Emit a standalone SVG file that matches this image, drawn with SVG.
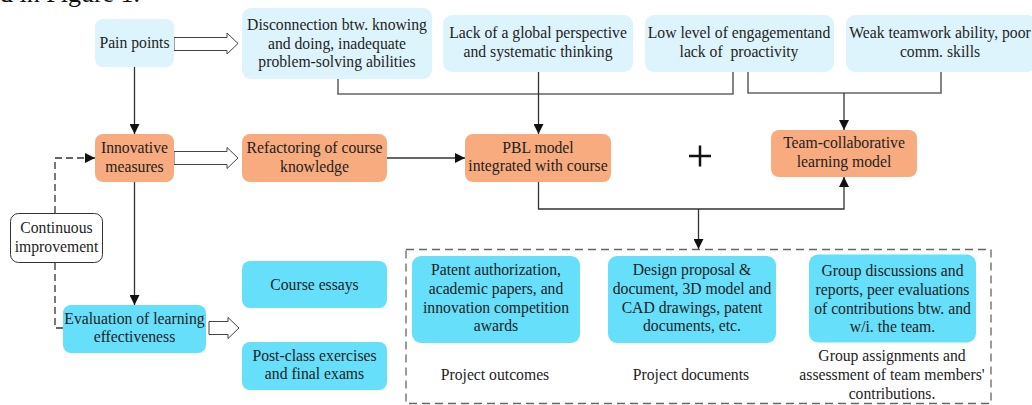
<svg xmlns="http://www.w3.org/2000/svg" width="1032" height="405" viewBox="0 0 1032 405">
<defs>
<style>
text{font-family:Liberation Serif,Tinos,Times New Roman,DejaVu Serif,serif;font-size:15.7px;fill:#1e1e1e;text-anchor:middle}
.pain{fill:#def4fc}
.orange{fill:#f8ab7e}
.cyan{fill:#66dffa}
.plain{fill:#ffffff;stroke:#333;stroke-width:1}
.conn{fill:none;stroke:#333;stroke-width:1.3}
.gray{fill:none;stroke:#666;stroke-width:1.6}
.dash{fill:none;stroke:#333;stroke-width:1.3;stroke-dasharray:7 4}
.frame{fill:none;stroke:#666;stroke-width:1.3;stroke-dasharray:8 5}
.hollow{fill:#ffffff;stroke:#444;stroke-width:1}
.cap{font-size:26px;text-anchor:start;fill:#111}
</style>
<marker id="ah" markerWidth="10" markerHeight="10" refX="10" refY="5" orient="auto" markerUnits="userSpaceOnUse">
<path d="M0,0 L10,5 L0,10 z" fill="#111"/>
</marker>
</defs>
<rect width="1032" height="405" fill="#ffffff"/>
<text class="cap" x="0" y="1.5">d in Figure 1.</text>

<g id="connectors">
<line class="conn" x1="134.5" y1="67" x2="134.5" y2="134" marker-end="url(#ah)"/>
<line class="conn" x1="134.5" y1="182" x2="134.5" y2="305" marker-end="url(#ah)"/>
<line class="conn" x1="387" y1="158" x2="465" y2="158" marker-end="url(#ah)"/>
<path class="gray" d="M338,79 V94 H733 V72"/>
<line class="conn" x1="538.5" y1="72" x2="538.5" y2="134" marker-end="url(#ah)"/>
<path class="gray" d="M748,72 V93 H941 V72"/>
<line class="conn" x1="844" y1="93" x2="844" y2="130" marker-end="url(#ah)"/>
<path class="conn" d="M538.5,182 V209 H844 V177" marker-end="url(#ah)"/>
<line class="conn" x1="698.5" y1="209" x2="698.5" y2="249" marker-end="url(#ah)"/>
<path class="dash" d="M63,328 H55 V262"/>
<path class="dash" d="M55,213 V158 H95" marker-end="url(#ah)"/>
<polygon class="hollow" points="174,37.5 227,37.5 227,33 238,43.5 227,54 227,50.5 174,50.5"/>
<polygon class="hollow" points="174,151.5 227,151.5 227,147.5 238,158 227,168.5 227,164.5 174,164.5"/>
<polygon class="hollow" points="209,321.5 228,321.5 228,317.5 239,328 228,338.5 228,334.5 209,334.5"/>
<path d="M689,156 H711 M700,145.5 V166.5" stroke="#111" stroke-width="2.5" fill="none"/>
</g>

<g id="pain-points">
<rect class="pain" x="95" y="19" width="79" height="48" rx="8"/>
<text x="134.5" y="48">Pain points</text>
</g>
<g id="disconnection">
<rect class="pain" x="242" y="8" width="190" height="71" rx="9"/>
<text x="337" y="30">Disconnection btw. knowing</text>
<text x="337" y="48.5">and doing, inadequate</text>
<text x="337" y="67">problem-solving abilities</text>
</g>
<g id="lack-global">
<rect class="pain" x="443" y="15" width="190" height="57" rx="9"/>
<text x="538" y="38">Lack of a global perspective</text>
<text x="538" y="57">and systematic thinking</text>
</g>
<g id="low-engagement">
<rect class="pain" x="645" y="15" width="189" height="57" rx="9"/>
<text x="739" y="38">Low level of engagementand</text>
<text x="739" y="57" xml:space="preserve">lack of  proactivity</text>
</g>
<g id="weak-teamwork">
<rect class="pain" x="846" y="15" width="190" height="57" rx="9"/>
<text x="940" y="38">Weak teamwork ability, poor</text>
<text x="940" y="57">comm. skills</text>
</g>

<g id="innovative-measures">
<rect class="orange" x="95" y="134" width="79" height="48" rx="8"/>
<text x="134.5" y="153">Innovative</text>
<text x="134.5" y="171.5">measures</text>
</g>
<g id="refactoring">
<rect class="orange" x="242" y="134" width="145" height="48" rx="8"/>
<text x="314.5" y="153">Refactoring of course</text>
<text x="314.5" y="171.5">knowledge</text>
</g>
<g id="pbl-model">
<rect class="orange" x="465" y="134" width="146" height="48" rx="8"/>
<text x="538" y="152.5">PBL model</text>
<text x="538" y="171">integrated with course</text>
</g>
<g id="team-collaborative">
<rect class="orange" x="771" y="130" width="146" height="47" rx="8"/>
<text x="844" y="148">Team-collaborative</text>
<text x="844" y="167">learning model</text>
</g>

<g id="continuous-improvement">
<rect class="plain" x="10.5" y="213.5" width="92" height="49" rx="8"/>
<text x="56.5" y="232.5">Continuous</text>
<text x="56.5" y="251.5">improvement</text>
</g>
<g id="evaluation">
<rect class="cyan" x="63" y="305" width="143" height="48" rx="8"/>
<text x="134.5" y="323.5">Evaluation of learning</text>
<text x="134.5" y="342">effectiveness</text>
</g>
<g id="course-essays">
<rect class="cyan" x="242" y="261" width="145" height="47" rx="8"/>
<text x="314.5" y="289.5">Course essays</text>
</g>
<g id="post-class">
<rect class="cyan" x="242" y="342" width="145" height="48" rx="8"/>
<text x="314.5" y="361">Post-class exercises</text>
<text x="314.5" y="379">and final exams</text>
</g>

<g id="outcomes-frame">
<rect class="frame" x="406" y="249.5" width="585" height="154"/>
</g>
<g id="patent">
<rect class="cyan" x="412" y="256" width="168" height="87" rx="9"/>
<text x="496" y="275">Patent authorization,</text>
<text x="496" y="294">academic papers, and</text>
<text x="496" y="312.5">innovation competition</text>
<text x="496" y="331">awards</text>
</g>
<g id="design">
<rect class="cyan" x="608" y="256" width="168" height="87" rx="9"/>
<text x="692" y="275">Design proposal &amp;</text>
<text x="692" y="294">document, 3D model and</text>
<text x="692" y="312.5">CAD drawings, patent</text>
<text x="692" y="331">documents, etc.</text>
</g>
<g id="group">
<rect class="cyan" x="809" y="254.5" width="167" height="88" rx="9"/>
<text x="892.5" y="276">Group discussions and</text>
<text x="892.5" y="294.5">reports, peer evaluations</text>
<text x="892.5" y="313.5">of contributions btw. and</text>
<text x="892.5" y="332">w/i. the team.</text>
</g>
<g id="project-outcomes">
<text x="495" y="379.5">Project outcomes</text>
</g>
<g id="project-documents">
<text x="691" y="379.5">Project documents</text>
</g>
<g id="group-assignments">
<text x="892" y="361">Group assignments and</text>
<text x="892" y="379.5">assessment of team members'</text>
<text x="892" y="398.5">contributions.</text>
</g>
</svg>
